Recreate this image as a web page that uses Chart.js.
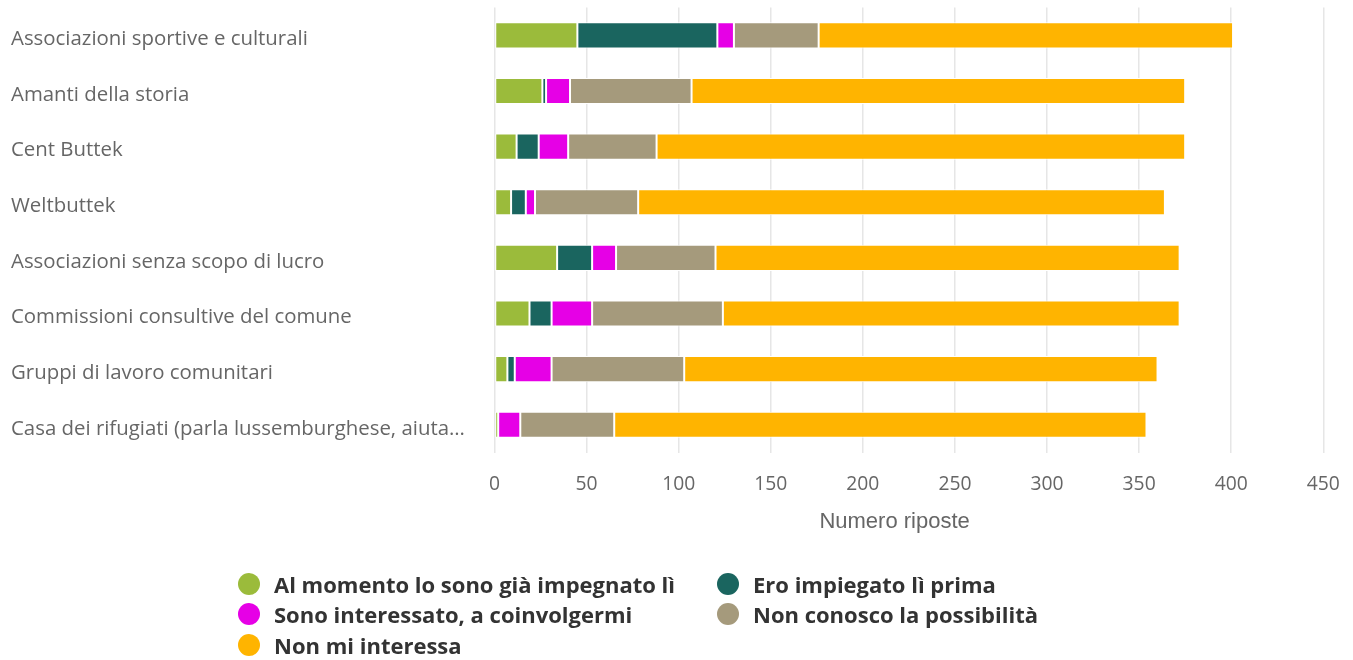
<!DOCTYPE html>
<html>
<head>
<meta charset="utf-8">
<script src="https://cdn.jsdelivr.net/npm/chart.js@4/dist/chart.umd.min.js"></script>
<style>
  html, body { margin: 0; padding: 0; background: #fff; }
  #wrap { position: relative; width: 1353px; height: 660px; }
  #c { position: absolute; left: 0; top: 0; }
  #legend { position: absolute; left: 0; top: 0; width: 1353px; height: 660px; pointer-events: none; }
  .li { position: absolute; display: flex; align-items: center; font-family: "Open Sans", sans-serif; font-weight: 700; font-size: 22px; color: #333; white-space: nowrap; }
  .dot { width: 22px; height: 22px; border-radius: 50%; margin-right: 14px; flex: none; }
</style>
</head>
<body>
<div id="wrap">
  <canvas id="c" width="1353" height="660"></canvas>
  <div id="legend"></div>
</div>
<script>
const categories = [
  "Associazioni sportive e culturali",
  "Amanti della storia",
  "Cent Buttek",
  "Weltbuttek",
  "Associazioni senza scopo di lucro",
  "Commissioni consultive del comune",
  "Gruppi di lavoro comunitari",
  "Casa dei rifugiati (parla lussemburghese, aiuta…"
];
const seriesNames = [
  "Al momento lo sono già impegnato lì",
  "Ero impiegato lì prima",
  "Sono interessato, a coinvolgermi",
  "Non conosco la possibilità",
  "Non mi interessa"
];
const alreadyEngaged = [45, 26, 12, 9, 34, 19, 7, 2];
const formerlyEmployed = [76, 2, 12, 8, 19, 12, 4, 0];
const interested = [9, 13, 16, 5, 13, 22, 20, 12];
const unaware = [46, 66, 48, 56, 54, 71, 72, 51];
const notInterested = [225, 268, 287, 286, 252, 248, 257, 289];
const xTicks = [0, 50, 100, 150, 200, 250, 300, 350, 400, 450];
const axisTitle = "Numero riposte";

const colors = ["#9BBB3B", "#1A655F", "#E600E6", "#A59A7C", "#FFB400"];
const seriesValues = [alreadyEngaged, formerlyEmployed, interested, unaware, notInterested];

const datasets = seriesValues.map((vals, i) => ({
  label: seriesNames[i],
  data: vals,
  backgroundColor: colors[i],
  borderColor: "#ffffff",
  borderWidth: 1,
  borderSkipped: false,
  categoryPercentage: 1,
  barPercentage: 0.47
}));

// Axis title drawn under the x axis (slightly left of the plot centre, as in the source)
const axisTitlePlugin = {
  id: "axisTitle",
  afterDraw(chart) {
    const s = chart.scales.x;
    const ctx = chart.ctx;
    ctx.save();
    ctx.font = '22px "Liberation Sans", Arial, sans-serif';
    ctx.fillStyle = "#666";
    ctx.textAlign = "center";
    ctx.textBaseline = "alphabetic";
    ctx.fillText(axisTitle, (s.left + s.right) / 2 - 14.3, s.top + 75);
    ctx.restore();
  }
};

new Chart(document.getElementById("c"), {
  type: "bar",
  data: { labels: categories, datasets },
  plugins: [axisTitlePlugin],
  options: {
    indexAxis: "y",
    responsive: false,
    animation: false,
    layout: { padding: { top: 7.5, left: 11, right: 29.7, bottom: 107.4 } },
    plugins: { legend: { display: false }, tooltip: { enabled: false } },
    scales: {
      x: {
        stacked: true,
        min: 0,
        max: 450,
        afterBuildTicks: (s) => { s.ticks = xTicks.map(v => ({ value: v })); },
        afterFit: (s) => { s.height = 100; s.paddingLeft = 0; s.paddingRight = 0; },
        grid: { color: "#e6e6e6", lineWidth: 1.5, drawTicks: false },
        border: { display: false },
        ticks: { color: "#666", padding: 20, font: { family: "Open Sans", size: 19.3 } },
        title: { display: false }
      },
      y: {
        stacked: true,
        afterFit: (s) => { s.width = 494.5 - 11; s.paddingTop = 0; s.paddingBottom = 0; },
        grid: { display: false },
        border: { display: false },
        ticks: { color: "#666", crossAlign: "far", labelOffset: 4, font: { family: "Open Sans", size: 20.4 } }
      }
    }
  }
});

const legend = document.getElementById("legend");
const colX = [238, 717];
const rowY = [584, 614, 645];
seriesNames.forEach((name, i) => {
  const el = document.createElement("div");
  el.className = "li";
  el.style.left = colX[i % 2] + "px";
  el.style.top = (rowY[Math.floor(i / 2)] - 13) + "px";
  el.style.height = "26px";
  const d = document.createElement("span");
  d.className = "dot";
  d.style.background = colors[i];
  const t = document.createElement("span");
  t.textContent = name;
  el.appendChild(d); el.appendChild(t);
  legend.appendChild(el);
});
</script>
</body>
</html>
